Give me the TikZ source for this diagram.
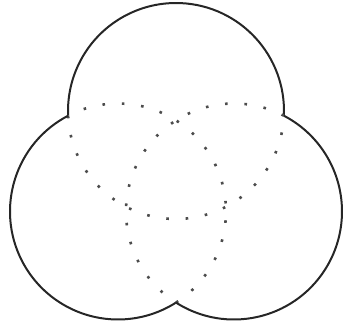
\documentclass[tikz,border=0pt]{standalone}
\usepackage{tikz}

\begin{document}
\begin{tikzpicture}[x=1pt, y=1pt,
outline/.style={line width=2pt, black!85},
hidden/.style={line width=2.6pt, dash pattern=on 2.6pt off 16.8pt, black!70}
]
\useasboundingbox (0,0) rectangle (346,324);
\coordinate (top) at (176,213);
\coordinate (left) at (118,112.5);
\coordinate (right) at (234,112.5);
% outer part solid, inner part dotted
\foreach \c/\dir in {top/90, left/210, right/330}{
  \draw[outline] (\c) ++({\dir-92.5}:108) arc[start angle={\dir-92.5}, delta angle=185, radius=108];
  \draw[hidden] (\c) ++({\dir+92.5}:108) arc[start angle={\dir+92.5}, delta angle=175, radius=108];
}
\end{tikzpicture}
\end{document}
